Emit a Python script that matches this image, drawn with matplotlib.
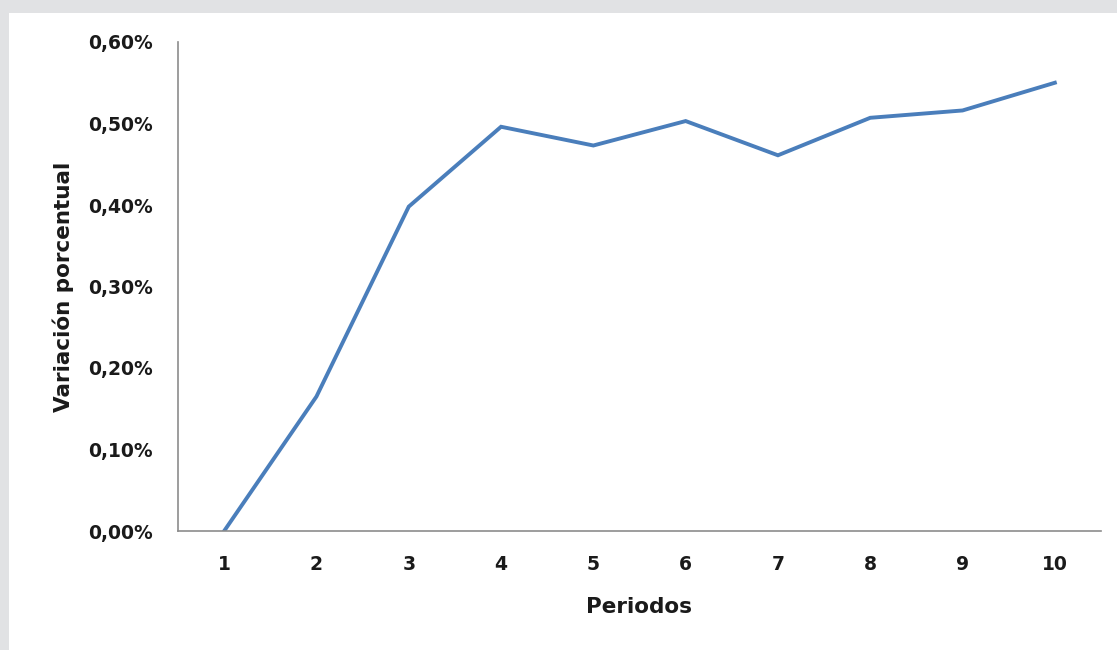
import matplotlib
matplotlib.use("Agg")
import matplotlib.pyplot as plt
from matplotlib.ticker import FuncFormatter

periods = [1, 2, 3, 4, 5, 6, 7, 8, 9, 10]
variation = [0.0, 0.165, 0.398, 0.496, 0.473, 0.503, 0.461, 0.507, 0.516, 0.550]
y_ticks = [0.0, 0.1, 0.2, 0.3, 0.4, 0.5, 0.6]

plt.rcParams['font.family'] = ['DejaVu Sans']

W, H = 1117, 650
fig = plt.figure(figsize=(W / 100, H / 100), dpi=100, facecolor='#e1e2e4')
bg = fig.add_axes([9 / W, 0, 1 - 9 / W, 1 - 13 / H], zorder=0)
bg.set_facecolor('white')
bg.set_xticks([]); bg.set_yticks([])
for s in bg.spines.values():
    s.set_visible(False)

ax = fig.add_axes([178 / W, 1 - 531 / H, (1101 - 178) / W, (531 - 42) / H], zorder=2)
ax.set_facecolor('none')
ax.plot(periods, variation, color='#4a7ebb', linewidth=2.8, solid_joinstyle='miter')

ax.set_xlim(0.5, 10.5)
ax.set_ylim(0, 0.6)
ax.set_xticks(periods)
ax.set_yticks(y_ticks)
ax.yaxis.set_major_formatter(FuncFormatter(lambda v, p: f"{v:.2f}%".replace('.', ',')))

for s in ['top', 'right']:
    ax.spines[s].set_visible(False)
for s in ['left', 'bottom']:
    ax.spines[s].set_color('#8c8c8c')
    ax.spines[s].set_linewidth(1.2)

ax.tick_params(axis='both', length=0, labelsize=13.5, colors='#1a1a1a')
ax.tick_params(axis='y', pad=18)
ax.tick_params(axis='x', pad=17)
for lbl in ax.get_xticklabels() + ax.get_yticklabels():
    lbl.set_fontweight('bold')

ax.set_xlabel('Periodos', fontsize=15.5, fontweight='bold', color='#1a1a1a', labelpad=16.5)
ax.set_ylabel('Variación porcentual', fontsize=15.5, fontweight='bold', color='#1a1a1a', labelpad=10)

fig.savefig('out.png', dpi=100, facecolor=fig.get_facecolor())
